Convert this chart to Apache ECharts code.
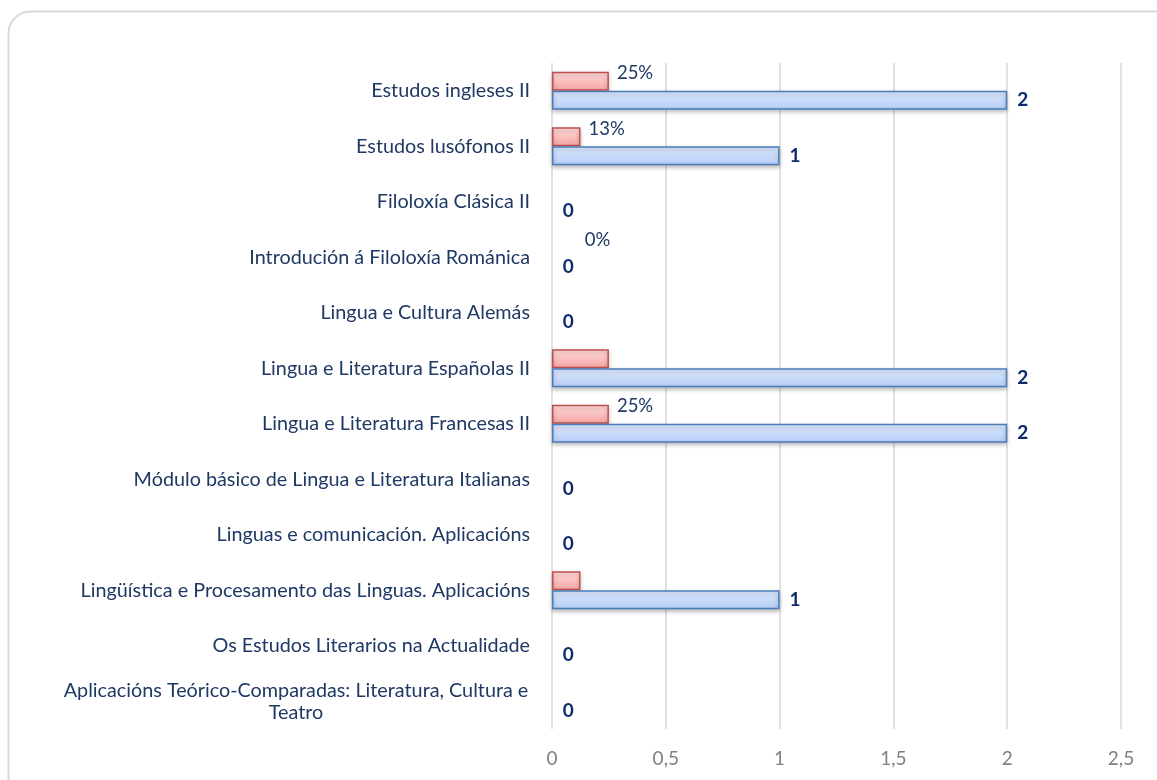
<!DOCTYPE html>
<html>
<head>
<meta charset="utf-8">
<script src="https://cdn.jsdelivr.net/npm/echarts@6/dist/echarts.min.js"></script>
<style>
  html, body { margin: 0; padding: 0; background: #fff; }
  #chart { width: 1157px; height: 780px; }
</style>
</head>
<body>
<div id="chart"></div>
<script>
var categories = [
  "Estudos ingleses II",
  "Estudos lusófonos II",
  "Filoloxía Clásica II",
  "Introdución á Filoloxía Románica",
  "Lingua e Cultura Alemás",
  "Lingua e Literatura Españolas II",
  "Lingua e Literatura Francesas II",
  "Módulo básico de Lingua e Literatura Italianas",
  "Linguas e comunicación. Aplicacións",
  "Lingüística e Procesamento das Linguas. Aplicacións",
  "Os Estudos Literarios na Actualidade",
  "Aplicacións Teórico-Comparadas: Literatura, Cultura e\nTeatro"
];
// number of students (blue)
var counts = [2, 1, 0, 0, 0, 2, 2, 0, 0, 1, 0, 0];
// share of total (red)
var shares = [0.25, 0.125, 0, 0, 0, 0.25, 0.25, 0, 0, 0.125, 0, 0];
// which percentage labels are printed in the original
var shareLabelShown = [true, true, false, true, false, false, true, false, false, false, false, false];
var xTicks = { min: 0, max: 2.5, interval: 0.5 };

var navy = "#1f3864";
var font = "Lato";

var chart = echarts.init(document.getElementById("chart"));

function grad(top, bottom) {
  return new echarts.graphic.LinearGradient(0, 0, 0, 1, [
    { offset: 0, color: top },
    { offset: 1, color: bottom }
  ]);
}

// zero-length bars draw nothing in the original, only their label
var hidden = { borderColor: "transparent", shadowColor: "transparent" };

chart.setOption({
  backgroundColor: "#fff",
  animation: false,
  textStyle: { fontFamily: font },
  graphic: [{
    type: "rect",
    shape: { x: 8.5, y: 11.5, width: 1220, height: 820, r: 22 },
    style: { fill: "none", stroke: "#d9d9d9", lineWidth: 2 },
    silent: true
  }],
  grid: { left: 552, right: 36, top: 63, bottom: 51 },
  xAxis: {
    type: "value",
    min: xTicks.min,
    max: xTicks.max,
    interval: xTicks.interval,
    axisLine: { show: false },
    axisTick: { show: false },
    splitLine: { lineStyle: { color: "#d9d9d9", width: 1.5 } },
    axisLabel: {
      color: "#808080",
      fontSize: 19,
      fontFamily: font,
      margin: 20,
      formatter: function (v) { return String(v).replace(".", ","); }
    }
  },
  yAxis: {
    type: "category",
    inverse: true,
    data: categories,
    axisLine: { show: false },
    axisTick: { show: false },
    axisLabel: {
      color: navy,
      fontSize: 19.8,
      fontFamily: font,
      margin: 22,
      formatter: function (v) {
        if (v.indexOf("\n") < 0) return v;
        return v.split("\n").map(function (l) { return "{c|" + l + "}"; }).join("\n");
      },
      rich: {
        c: { width: 468, align: "center", color: navy, fontSize: 19.8, fontFamily: font, lineHeight: 22 }
      }
    }
  },
  series: [
    {
      name: "share",
      type: "bar",
      barWidth: 19,
      barGap: "0%",
      data: shares.map(function (v, i) {
        var item = { value: v, label: { show: shareLabelShown[i] } };
        if (v === 0) {
          item.itemStyle = hidden;
          item.label.offset = [24, -8];
        }
        return item;
      }),
      itemStyle: {
        color: grad("#ffdcdc", "#f5a3a3"),
        borderColor: "#c0504d",
        borderWidth: 1.5,
        shadowColor: "rgba(0,0,0,0.25)",
        shadowBlur: 4,
        shadowOffsetY: 2
      },
      label: {
        position: "right",
        distance: 8,
        offset: [0, -8],
        color: navy,
        fontSize: 18.5,
        fontFamily: font,
        formatter: function (p) { return Math.round(p.value * 100) + "%"; }
      }
    },
    {
      name: "count",
      type: "bar",
      barWidth: 19,
      data: counts.map(function (v) {
        return v === 0 ? { value: v, itemStyle: hidden } : v;
      }),
      itemStyle: {
        color: grad("#dde9fd", "#b4cdf6"),
        borderColor: "#4a7ebb",
        borderWidth: 1.5,
        shadowColor: "rgba(0,0,0,0.25)",
        shadowBlur: 4,
        shadowOffsetY: 2
      },
      label: {
        show: true,
        position: "right",
        distance: 10,
        color: "#0f2a6b",
        fontSize: 19,
        fontWeight: "bold",
        fontFamily: font
      }
    }
  ]
});
</script>
</body>
</html>
